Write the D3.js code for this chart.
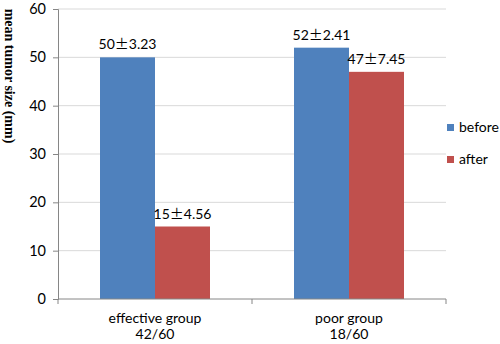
<!DOCTYPE html>
<html>
<head>
<meta charset="utf-8">
<script src="https://cdn.jsdelivr.net/npm/d3@7"></script>
<style>
  body { margin: 0; background: #fff; }
  #chart { width: 500px; height: 344px; }
</style>
</head>
<body>
<div id="chart"></div>
<script>
const groups = ['effective group|42/60', 'poor group|18/60'];
const series = ['before', 'after'];
const before = [50, 52];
const after = [15, 47];
const beforeSd = ['3.23', '2.41'];
const afterSd = ['4.56', '7.45'];
const yTicks = [0, 10, 20, 30, 40, 50, 60];
const colors = { before: '#4F81BD', after: '#C0504D' };

const rows = groups.map((g, i) => ({
  group: g,
  vals: [
    { key: 'before', value: before[i], sd: beforeSd[i] },
    { key: 'after', value: after[i], sd: afterSd[i] }
  ]
}));

const width = 500, height = 344;
const margin = { top: 9, right: 54, bottom: 45, left: 58 };
const w = width - margin.left - margin.right;
const h = height - margin.top - margin.bottom;
const font = 'Lato, "Open Sans", sans-serif';

const svg = d3.select('#chart').append('svg').attr('width', width).attr('height', height);
const g = svg.append('g').attr('transform', `translate(${margin.left},${margin.top})`);

const x = d3.scaleBand().domain(groups).range([0, w]).paddingInner(0).paddingOuter(0);
const xs = d3.scaleBand().domain(series).range([42, x.bandwidth() - 42]);
const y = d3.scaleLinear().domain([0, 60]).range([h, 0]);

// gridlines
g.selectAll('.grid').data(yTicks.filter(t => t > 0)).enter().append('line')
  .attr('x1', 0).attr('x2', w)
  .attr('y1', d => y(d)).attr('y2', d => y(d))
  .attr('stroke', '#D9D9D9').attr('stroke-width', 1);

// bars
const gg = g.selectAll('.grp').data(rows).enter().append('g')
  .attr('transform', d => `translate(${x(d.group)},0)`);
gg.selectAll('rect').data(d => d.vals).enter().append('rect')
  .attr('x', d => xs(d.key)).attr('y', d => y(d.value))
  .attr('width', xs.bandwidth()).attr('height', d => h - y(d.value))
  .attr('fill', d => colors[d.key]);
const vl = gg.selectAll('text').data(d => d.vals).enter().append('text')
  .attr('x', d => xs(d.key) + xs.bandwidth() / 2).attr('y', d => y(d.value) - 8)
  .attr('text-anchor', 'middle').attr('font-family', font).attr('font-size', 14)
  .attr('fill', '#000');
vl.append('tspan').text(d => d.value);
vl.append('tspan').attr('font-family', '"Noto Sans CJK SC", sans-serif').attr('font-size', 14).text('\u00B1');
vl.append('tspan').text(d => d.sd);

// y axis
const ya = g.append('g').call(d3.axisLeft(y).tickValues(yTicks).tickSize(5).tickPadding(7));
ya.select('.domain').attr('stroke', '#868686');
ya.selectAll('.tick line').attr('stroke', '#868686');
ya.selectAll('.tick text').attr('font-family', font).attr('font-size', 14.5).attr('fill', '#000');

// x axis
const xa = g.append('g').attr('transform', `translate(0,${h})`);
xa.append('line').attr('x1', 0).attr('x2', w).attr('stroke', '#868686');
xa.selectAll('.tk').data(groups.concat(['end'])).enter().append('line')
  .attr('x1', (d, i) => i * x.bandwidth()).attr('x2', (d, i) => i * x.bandwidth())
  .attr('y1', 0).attr('y2', 5).attr('stroke', '#868686');
const lbl = xa.selectAll('.xl').data(groups).enter().append('text')
  .attr('x', d => x(d) + x.bandwidth() / 2)
  .attr('text-anchor', 'middle').attr('font-family', font).attr('font-size', 14).attr('fill', '#000');
lbl.append('tspan').attr('x', d => x(d) + x.bandwidth() / 2).attr('y', 24).text(d => d.split('|')[0]);
lbl.append('tspan').attr('x', d => x(d) + x.bandwidth() / 2).attr('y', 40).text(d => d.split('|')[1]);

// y title
svg.append('text')
  .attr('transform', 'translate(8,76) rotate(90)')
  .attr('text-anchor', 'middle').attr('dominant-baseline', 'middle')
  .attr('font-family', '"Liberation Serif", "Times New Roman", serif')
  .attr('font-weight', 'bold').attr('font-size', 14)
  .text('mean tumor size (mm)');

// legend
const lg = svg.append('g').attr('transform', 'translate(447,124)');
const li = lg.selectAll('g').data(series).enter().append('g')
  .attr('transform', (d, i) => `translate(0,${i * 32})`);
li.append('rect').attr('width', 7).attr('height', 7).attr('fill', d => colors[d]);
li.append('text').attr('x', 12).attr('y', 8).attr('font-family', font).attr('font-size', 14)
  .text(d => d);
</script>
</body>
</html>
